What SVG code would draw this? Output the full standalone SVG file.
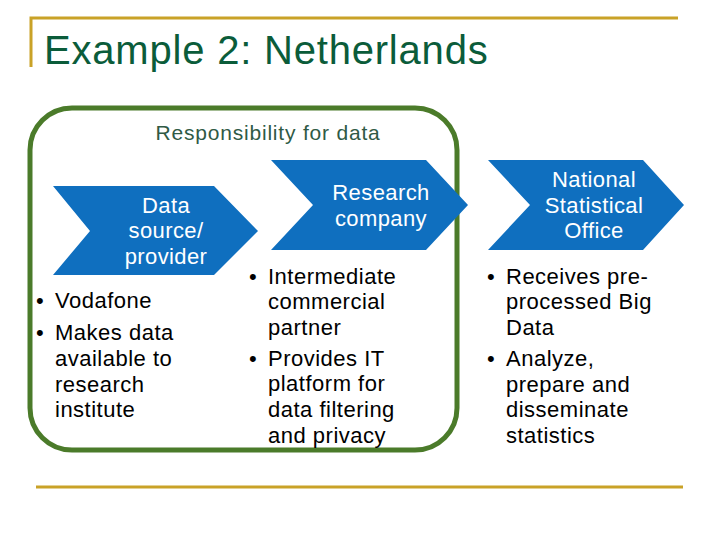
<svg xmlns="http://www.w3.org/2000/svg" width="720" height="540" viewBox="0 0 720 540">
<style>
text{font-family:"Liberation Sans",Arial,sans-serif}
.chev{fill:#0f6fbf}
.ct{fill:#fff;font-size:22px;text-anchor:middle;letter-spacing:0.4px}
.bt{fill:#000;font-size:22px;letter-spacing:0.5px}
.gold{stroke:#c9a227;stroke-width:3;fill:none}
</style>
<rect width="720" height="540" fill="#fff"/>
<path class="gold" d="M31 67V18H678"/>
<line class="gold" x1="36" y1="487" x2="683" y2="487"/>
<text x="44" y="64" font-size="40" fill="#0b5c3a" letter-spacing="0.8">Example 2: Netherlands</text>
<g id="box">
<rect x="30" y="108" width="427" height="342" rx="42" fill="none" stroke="#4b7b2a" stroke-width="5"/>
<text x="268" y="140" font-size="21" fill="#2f5a45" text-anchor="middle" letter-spacing="0.8">Responsibility for data</text>
</g>
<g id="n1">
<polygon class="chev" points="53,186 214,186 258,231 214,275 53,275 90,231"/>
<text class="ct" x="166" y="213">Data</text><text class="ct" x="166" y="238">source/</text><text class="ct" x="166" y="264">provider</text>
<text class="bt" x="36" y="308">•</text><text class="bt" x="55" y="308">Vodafone</text>
<text class="bt" x="36" y="340">•</text><text class="bt" x="55" y="340">Makes data</text>
<text class="bt" x="55" y="366">available to</text>
<text class="bt" x="55" y="392">research</text>
<text class="bt" x="55" y="417">institute</text>
</g>
<g id="n2">
<polygon class="chev" points="271,160 426,160 468,205 426,250 271,250 313,205"/>
<text class="ct" x="381" y="200">Research</text><text class="ct" x="381" y="226">company</text>
<text class="bt" x="249" y="284">•</text><text class="bt" x="268" y="284">Intermediate</text>
<text class="bt" x="268" y="309">commercial</text>
<text class="bt" x="268" y="335">partner</text>
<text class="bt" x="249" y="366">•</text><text class="bt" x="268" y="366">Provides IT</text>
<text class="bt" x="268" y="391">platform for</text>
<text class="bt" x="268" y="417">data filtering</text>
<text class="bt" x="268" y="443">and privacy</text>
</g>
<g id="n3">
<polygon class="chev" points="488,160 643,160 684,205 643,250 488,250 530,205"/>
<text class="ct" x="594" y="187">National</text><text class="ct" x="594" y="213">Statistical</text><text class="ct" x="594" y="238">Office</text>
<text class="bt" x="487" y="284">•</text><text class="bt" x="506" y="284">Receives pre-</text>
<text class="bt" x="506" y="309">processed Big</text>
<text class="bt" x="506" y="335">Data</text>
<text class="bt" x="487" y="366">•</text><text class="bt" x="506" y="366">Analyze,</text>
<text class="bt" x="506" y="392">prepare and</text>
<text class="bt" x="506" y="417">disseminate</text>
<text class="bt" x="506" y="443">statistics</text>
</g>
<g id="connectors"/>
</svg>
